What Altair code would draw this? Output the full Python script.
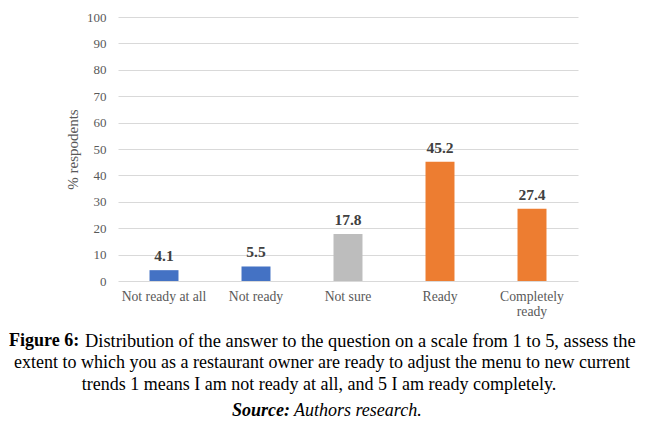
import altair as alt
import pandas as pd

categories = ["Not ready at all", "Not ready", "Not sure", "Ready", "Completely ready"]
values = [4.1, 5.5, 17.8, 45.2, 27.4]
bar_colors = ["#4472c4", "#4472c4", "#bdbdbd", "#ed7d31", "#ed7d31"]
y_ticks = [0, 10, 20, 30, 40, 50, 60, 70, 80, 90, 100]

y_title = "% respodents"
fig_label = "Figure 6:"
caption_line1 = "Distribution of the answer to the question on a scale from 1 to 5, assess the"
caption_line2 = "extent to which you as a restaurant owner are ready to adjust the menu to new current"
caption_line3 = "trends 1 means I am not ready at all, and 5 I am ready completely."
source_label = "Source:"
source_text = "Authors research."

SERIF = "Liberation Serif"
GRAY = "#595959"

df = pd.DataFrame({"category": categories, "value": values})

base = alt.Chart(df).encode(
    x=alt.X(
        "category:N",
        sort=categories,
        scale=alt.Scale(paddingInner=0.685, paddingOuter=0.3425),
        axis=alt.Axis(
            title=None,
            labelAngle=0,
            domain=False,
            ticks=False,
            labelPadding=8,
            labelFont=SERIF,
            labelFontSize=13.7,
            labelColor=GRAY,
            labelLineHeight=15,
            labelExpr="datum.label == 'Completely ready' ? ['Completely', 'ready'] : datum.label",
        ),
    ),
    y=alt.Y(
        "value:Q",
        scale=alt.Scale(domain=[0, 100]),
        axis=alt.Axis(
            values=y_ticks,
            labelOverlap=False,
            grid=True,
            gridColor="#d9d9d9",
            domain=False,
            ticks=False,
            labelPadding=12,
            labelFont=SERIF,
            labelFontSize=13,
            labelColor=GRAY,
            title=y_title,
            titleFont=SERIF,
            titleFontSize=15,
            titleFontWeight="normal",
            titleColor=GRAY,
            titleX=-46,
            titleY=132,
            titleAngle=-90,
            titleAlign="center",
            titleBaseline="middle",
        ),
    ),
)

bars = base.mark_bar().encode(
    color=alt.Color(
        "category:N",
        scale=alt.Scale(domain=categories, range=bar_colors),
        legend=None,
    ),
)

labels = base.mark_text(
    font=SERIF, fontSize=15.5, fontWeight="bold", color="#404040",
    baseline="alphabetic", dy=-9,
).encode(
    text=alt.Text("value:Q", format=".1f"),
)


def txt(s, x, y, align="left", weight="normal", style="normal", size=18):
    return alt.Chart(pd.DataFrame({"t": [s]})).mark_text(
        font=SERIF, fontSize=size, fontWeight=weight, fontStyle=style,
        color="#000000", align=align, baseline="middle",
    ).encode(x=alt.value(x), y=alt.value(y), text="t:N")


cap = [
    txt(fig_label, -109, 324, weight="bold"),
    txt(caption_line1, -33, 324, size=18.4),
    txt(caption_line2, 204, 346, align="center"),
    txt(caption_line3, 201, 368, align="center"),
    txt(source_label, 172, 394, align="right", weight="bold", style="italic"),
    txt(source_text, 176, 394, style="italic"),
]

chart = alt.layer(bars, labels, *cap).properties(
    width=460,
    height=264,
    autosize=alt.AutoSizeParams(type="none"),
    padding={"left": 110, "top": 9, "right": 78, "bottom": 143},
).configure_view(stroke=None)

chart.save("out.html", embed_options={"renderer": "svg", "actions": False})
